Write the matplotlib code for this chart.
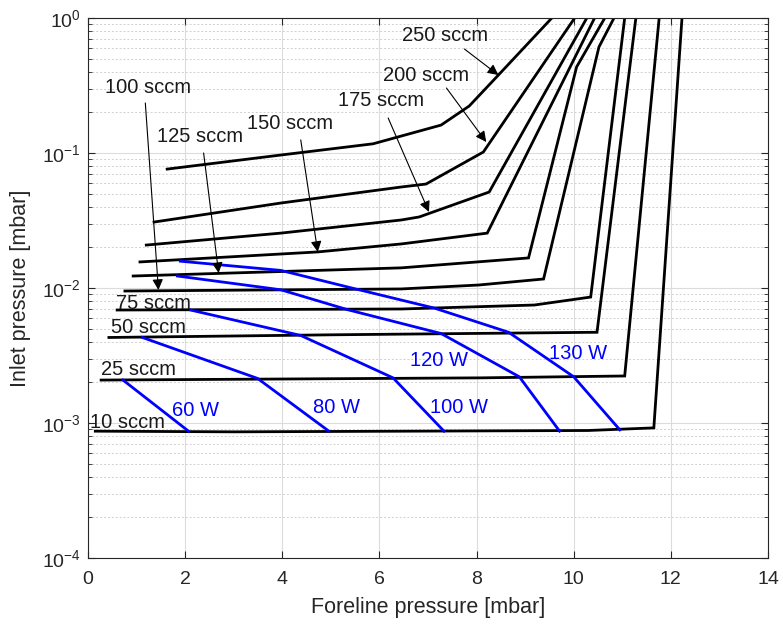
import matplotlib
matplotlib.use("Agg")
import matplotlib.pyplot as plt
from matplotlib.ticker import LogLocator, NullFormatter

plt.rcParams['font.family'] = ['Liberation Sans', 'DejaVu Sans']
plt.rcParams['mathtext.fontset'] = 'custom'
plt.rcParams['mathtext.rm'] = 'Liberation Sans'

# Flow-rate curves: foreline pressure [mbar] vs inlet pressure [mbar]
flow_labels = ["10 sccm", "25 sccm", "50 sccm", "75 sccm", "100 sccm",
               "125 sccm", "150 sccm", "175 sccm", "200 sccm", "250 sccm"]

x_10 = [0.15, 3.0, 10.3, 11.65, 12.23]
y_10 = [0.00087, 0.00086, 0.00088, 0.00092, 1.0]

x_25 = [0.27, 8.10, 11.05, 11.76]
y_25 = [0.00208, 0.00216, 0.00223, 1.0]

x_50 = [0.43, 5.0, 10.48, 11.28]
y_50 = [0.0043, 0.0045, 0.0047, 1.0]

x_75 = [0.60, 6.45, 9.19, 10.35, 11.05]
y_75 = [0.00687, 0.00699, 0.00748, 0.00857, 1.0]

x_100 = [0.76, 6.45, 8.04, 9.38, 10.52, 10.83]
y_100 = [0.0095, 0.00984, 0.01052, 0.01166, 0.61, 1.0]

x_125 = [0.93, 6.45, 9.07, 10.06, 10.64]
y_125 = [0.01227, 0.0141, 0.0167, 0.434, 1.0]

x_150 = [1.07, 4.73, 6.45, 8.22, 10.43]
y_150 = [0.0156, 0.0185, 0.0212, 0.0255, 1.0]

x_175 = [1.20, 3.97, 6.45, 6.82, 8.26, 10.27]
y_175 = [0.0208, 0.0255, 0.0319, 0.0336, 0.0514, 1.0]

x_200 = [1.36, 3.97, 6.45, 6.96, 8.14, 10.02]
y_200 = [0.0308, 0.0426, 0.056, 0.0589, 0.1017, 1.0]

x_250 = [1.63, 3.97, 5.87, 7.27, 7.85, 8.45, 9.55]
y_250 = [0.076, 0.0966, 0.117, 0.161, 0.223, 0.378, 1.0]

flow_x = [x_10, x_25, x_50, x_75, x_100, x_125, x_150, x_175, x_200, x_250]
flow_y = [y_10, y_25, y_50, y_75, y_100, y_125, y_150, y_175, y_200, y_250]

# Constant-power lines
power_labels = ["60 W", "80 W", "100 W", "120 W", "130 W"]
px_60 = [0.72, 2.07]
py_60 = [0.00208, 0.00087]
px_80 = [1.12, 3.49, 4.96]
py_80 = [0.0043, 0.00214, 0.00087]
px_100 = [2.11, 4.38, 6.28, 7.33]
py_100 = [0.00687, 0.00445, 0.00216, 0.00087]
px_120 = [1.84, 3.97, 5.35, 7.27, 8.88, 9.71]
py_120 = [0.01227, 0.0097, 0.0069, 0.0046, 0.0022, 0.00087]
px_130 = [1.90, 3.97, 5.48, 7.13, 8.66, 10.0, 10.95]
py_130 = [0.0158, 0.0135, 0.0099, 0.0071, 0.0047, 0.0022, 0.00089]
power_x = [px_60, px_80, px_100, px_120, px_130]
power_y = [py_60, py_80, py_100, py_120, py_130]

fig = plt.figure(figsize=(7.83, 6.25), dpi=100)
ax = fig.add_axes([0.1124, 0.1072, 0.8684, 0.864])

for xs, ys in zip(flow_x, flow_y):
    ax.plot(xs, ys, color="black", lw=2.0, solid_joinstyle="miter")
for xs, ys in zip(power_x, power_y):
    ax.plot(xs, ys, color="#0000ff", lw=2.0)

ax.set_yscale("log")
ax.set_xlim(0, 14)
ax.set_ylim(1e-4, 1)
ax.set_xticks(range(0, 15, 2))
ax.yaxis.set_major_locator(LogLocator(base=10, numticks=10))
ax.yaxis.set_minor_locator(LogLocator(base=10, subs=range(2, 10), numticks=20))
ax.yaxis.set_minor_formatter(NullFormatter())

ax.grid(True, which="major", color="#dcdcdc", lw=0.8, ls="-")
ax.grid(True, which="minor", axis="y", color="#d0d0d0", lw=0.7, ls=(0, (2, 2)))
ax.set_axisbelow(True)
ax.tick_params(which="both", direction="in", top=True, right=True,
               colors="#262626", labelsize=14)
ax.tick_params(which="major", length=5)
ax.tick_params(which="minor", length=3)
ax.tick_params(axis="x", which="major", pad=9)
ax.tick_params(axis="y", which="major", pad=5)
for sp in ax.spines.values():
    sp.set_color("#262626")
    sp.set_linewidth(0.8)

ax.set_xlabel("Foreline pressure [mbar]", fontsize=15.5, color="#262626", labelpad=7)
ax.set_ylabel("Inlet pressure [mbar]", fontsize=15.5, color="#262626", labelpad=8)

# Labels with arrows
arrow_text_pos = {"250 sccm": (7.36, 0.748), "200 sccm": (6.96, 0.378),
                  "175 sccm": (6.03, 0.243), "150 sccm": (4.17, 0.164),
                  "125 sccm": (2.31, 0.1336), "100 sccm": (1.24, 0.308)}
arrow_tail = {"250 sccm": (7.75, 0.589), "200 sccm": (7.38, 0.303),
              "175 sccm": (6.18, 0.1816), "150 sccm": (4.38, 0.125),
              "125 sccm": (2.38, 0.1), "100 sccm": (1.18, 0.2347)}
arrow_tip = {"250 sccm": (8.45, 0.378), "200 sccm": (8.20, 0.1206),
             "175 sccm": (7.02, 0.0366), "150 sccm": (4.73, 0.0185),
             "125 sccm": (2.69, 0.0129), "100 sccm": (1.45, 0.00966)}
for lab in arrow_text_pos:
    ax.annotate("", xy=arrow_tip[lab], xytext=arrow_tail[lab],
                arrowprops=dict(arrowstyle="-|>", color="black", lw=0.8,
                                mutation_scale=16, shrinkA=0, shrinkB=0))
    ax.text(*arrow_text_pos[lab], lab, fontsize=14.5, ha="center", va="center",
            color="#1a1a1a")

plain_pos = {"75 sccm": (1.34, 0.00774), "50 sccm": (1.24, 0.00514),
             "25 sccm": (1.03, 0.00251), "10 sccm": (0.81, 0.001)}
for lab, (tx, ty) in plain_pos.items():
    ax.text(tx, ty, lab, fontsize=14.5, ha="center", va="center", color="#1a1a1a")

power_pos = [(2.21, 0.00123), (5.12, 0.00131), (7.64, 0.00131),
             (7.23, 0.00288), (10.10, 0.0033)]
for lab, (tx, ty) in zip(power_labels, power_pos):
    ax.text(tx, ty, lab, fontsize=14.5, ha="center", va="center", color="#0000ff")

fig.savefig("out.png", dpi=100)
